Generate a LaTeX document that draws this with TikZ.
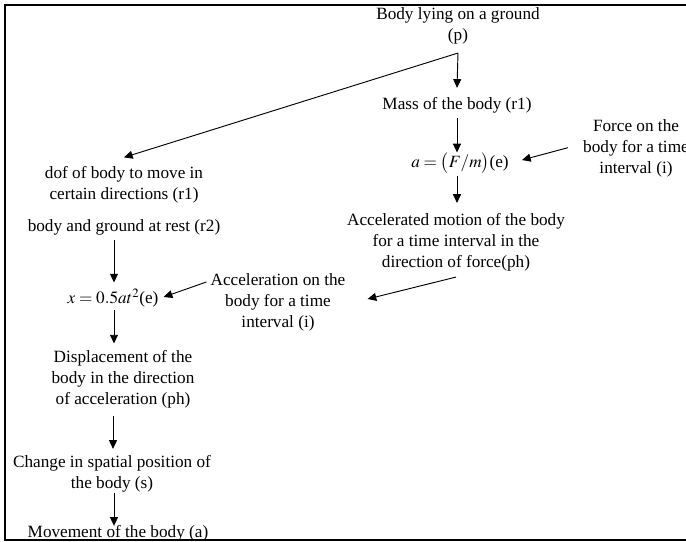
\documentclass[tikz,border=0pt]{standalone}
\usepackage{mathptmx}
\usepackage[no-math]{fontspec}
\setmainfont{Liberation Serif}
\usetikzlibrary{arrows.meta,calc}
\begin{document}
\begin{tikzpicture}[x=0.75pt,y=-0.75pt,
  lbl/.style={font=\fontsize{12.9}{15.7}\selectfont, align=center, inner sep=0pt},
  arr/.style={-{Triangle[length=6.5pt,width=6pt]}, line width=0.7pt},
  frameline/.style={line width=1.5pt}]
\useasboundingbox (0,0) rectangle (686,542);
\draw[frameline] (686,5) -- (5,5) -- (5,540) -- (686,540);

\node[lbl] (p) at (458,25.5) {Body lying on a ground\\(p)};
\node[lbl] (mass) at (457,105) {Mass of the body (r1)};
\node[lbl] (aeq) at (460,163) {$a=\bigl(F/m\bigr)$(e)};
\node[lbl] (force) at (636,148.7) {Force on the\\body for a time\\interval (i)};
\node[lbl] (accm) at (456,242) {Accelerated motion of the body\\for a time interval in the\\direction of force(ph)};
\node[lbl] (dof) at (124,185) {dof of body to move in\\certain directions (r1)};
\node[lbl] (rest) at (124,227) {body and ground at rest (r2)};
\node[lbl] (xeq) at (113,298) {$x=0.5at^2$(e)};
\node[lbl] (accel) at (278,302) {Acceleration on the\\body for a time\\interval (i)};
\node[lbl] (disp) at (123,379.5) {Displacement of the\\body in the direction\\of acceleration (ph)};
\node[lbl] (change) at (112,473.5) {Change in spatial position of\\the body (s)};
\node[lbl] (move) at (118,533) {Movement of the body (a)};

\coordinate (pj) at ($(p.south)+(0,9)$);
\draw[arr] (pj) -- ($(mass.north)+(0,-9)$);
\draw[arr] (pj) -- ($(dof.north)+(0,-9)$);
\draw[arr] ($(mass.south)+(0,5)$) -- ($(aeq.north)+(-3,0)$);
\draw[arr] ($(force.west)+(-15,-1)$) -- ($(aeq.east)+(13,-3)$);
\draw[arr] ($(aeq.south)+(-3,2)$) -- ($(accm.north)+(1,-10)$);
\draw[arr] ($(accm.south)+(0,6)$) -- ($(accel.east)+(22,-3)$);
\draw[arr] ($(accel.west)+(-4,-20)$) -- ($(xeq.east)+(5,-1)$);
\draw[arr] ($(rest.south)+(-10,5)$) -- ($(xeq.north)+(1,-6)$);
\draw[arr] ($(xeq.south)+(1,3)$) -- ($(xeq.south)+(1,36)$);
\draw[arr] ($(disp.south)+(-10,7)$) -- ($(change.north)+(1,-6)$);
\draw[arr] ($(change.south)+(2,1)$) -- ($(move.north)+(-4,1)$);
\end{tikzpicture}
\end{document}
